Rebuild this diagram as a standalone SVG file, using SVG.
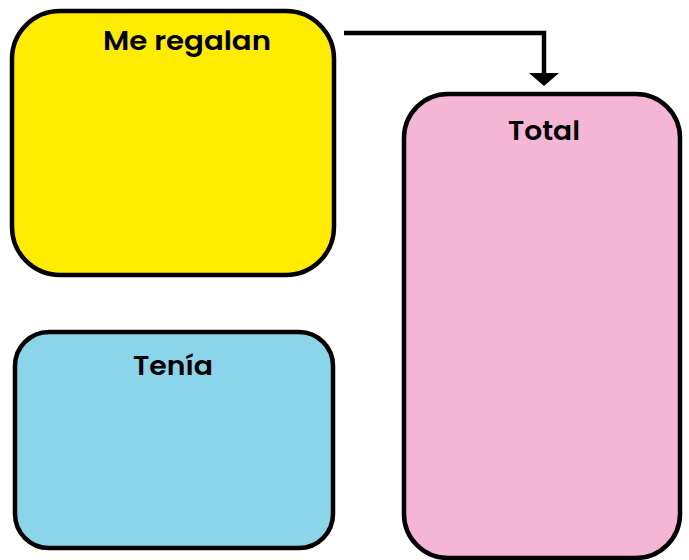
<svg xmlns="http://www.w3.org/2000/svg" width="689" height="560" viewBox="0 0 689 560">
<defs>
<style>
.box{stroke:#000;stroke-width:4.5}
.lbl{font-family:"Poppins","Inter","Liberation Sans",sans-serif;font-weight:600;font-size:26px;fill:#000;text-anchor:middle}
.conn{fill:none;stroke:#000;stroke-width:4.5}
</style>
</defs>
<rect width="689" height="560" fill="#fff"/>
<g id="me-regalan">
<rect class="box" x="12" y="11" width="322" height="264" rx="48" fill="#FFEC00"/>
<text class="lbl" x="187" y="50" textLength="168" lengthAdjust="spacingAndGlyphs">Me regalan</text>
</g>
<g id="tenia">
<rect class="box" x="15" y="332" width="318" height="216" rx="34" fill="#8AD5EA"/>
<text class="lbl" x="173" y="375" textLength="80" lengthAdjust="spacingAndGlyphs">Tenía</text>
</g>
<g id="total">
<rect class="box" x="404" y="94" width="276" height="464" rx="44" fill="#F5B5D4"/>
<text class="lbl" x="544" y="140" textLength="72" lengthAdjust="spacingAndGlyphs">Total</text>
</g>
<g id="connectors">
<path class="conn" d="M344 33 H544 V74"/>
<polygon points="529,73 559,73 544,86" fill="#000"/>
</g>
</svg>
